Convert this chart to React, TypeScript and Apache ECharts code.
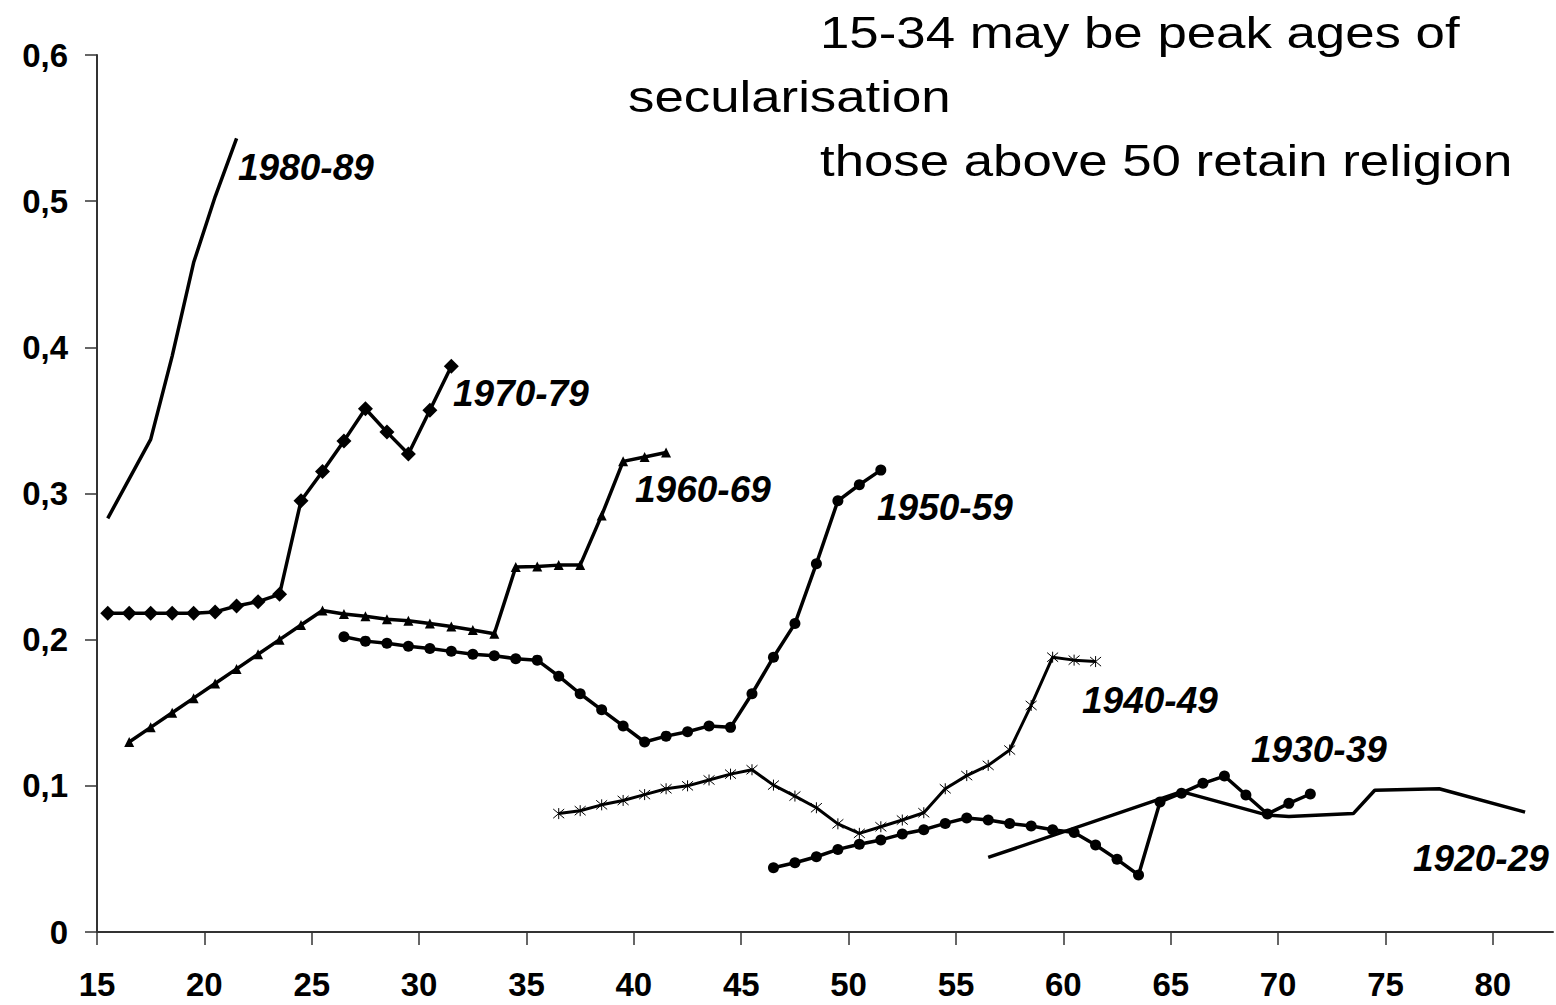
import React, { useEffect, useRef } from "react";
import * as echarts from "echarts";

// Age (x) and share (y) per birth cohort
const ages1980 = [15.5, 17.5, 18.5, 19.5, 20.5, 21.5];
const vals1980 = [0.283, 0.337, 0.394, 0.458, 0.503, 0.543];

const ages1970 = [15.5, 16.5, 17.5, 18.5, 19.5, 20.5, 21.5, 22.5, 23.5, 24.5, 25.5, 26.5, 27.5, 28.5, 29.5, 30.5, 31.5];
const vals1970 = [0.218, 0.218, 0.218, 0.218, 0.218, 0.219, 0.223, 0.226, 0.231, 0.295, 0.315, 0.336, 0.358, 0.342, 0.327, 0.357, 0.387];

const ages1960 = [16.5, 17.5, 18.5, 19.5, 20.5, 21.5, 22.5, 23.5, 24.5, 25.5, 26.5, 27.5, 28.5, 29.5, 30.5, 31.5, 32.5, 33.5, 34.5, 35.5, 36.5, 37.5, 38.5, 39.5, 40.5, 41.5];
const vals1960 = [0.13, 0.14, 0.15, 0.16, 0.17, 0.18, 0.19, 0.2, 0.21, 0.22, 0.2175, 0.216, 0.214, 0.213, 0.211, 0.209, 0.2066, 0.204, 0.2497, 0.25, 0.251, 0.251, 0.285, 0.322, 0.325, 0.328];

const ages1950 = [26.5, 27.5, 28.5, 29.5, 30.5, 31.5, 32.5, 33.5, 34.5, 35.5, 36.5, 37.5, 38.5, 39.5, 40.5, 41.5, 42.5, 43.5, 44.5, 45.5, 46.5, 47.5, 48.5, 49.5, 50.5, 51.5];
const vals1950 = [0.202, 0.199, 0.1975, 0.1955, 0.194, 0.192, 0.19, 0.189, 0.187, 0.186, 0.175, 0.163, 0.152, 0.141, 0.13, 0.134, 0.137, 0.141, 0.14, 0.163, 0.188, 0.211, 0.252, 0.295, 0.306, 0.316];

const ages1940 = [36.5, 37.5, 38.5, 39.5, 40.5, 41.5, 42.5, 43.5, 44.5, 45.5, 46.5, 47.5, 48.5, 49.5, 50.5, 51.5, 52.5, 53.5, 54.5, 55.5, 56.5, 57.5, 58.5, 59.5, 60.5, 61.5];
const vals1940 = [0.081, 0.083, 0.087, 0.09, 0.094, 0.098, 0.1, 0.104, 0.108, 0.111, 0.1005, 0.093, 0.085, 0.074, 0.0675, 0.072, 0.0766, 0.0816, 0.098, 0.107, 0.114, 0.1245, 0.155, 0.188, 0.186, 0.185];

const ages1930 = [46.5, 47.5, 48.5, 49.5, 50.5, 51.5, 52.5, 53.5, 54.5, 55.5, 56.5, 57.5, 58.5, 59.5, 60.5, 61.5, 62.5, 63.5, 64.5, 65.5, 66.5, 67.5, 68.5, 69.5, 70.5, 71.5];
const vals1930 = [0.044, 0.0474, 0.0515, 0.0565, 0.06, 0.063, 0.067, 0.07, 0.0743, 0.078, 0.0766, 0.0743, 0.0725, 0.07, 0.068, 0.0595, 0.0497, 0.039, 0.089, 0.095, 0.1017, 0.1067, 0.0937, 0.0807, 0.088, 0.0944];

const ages1920 = [56.5, 65.5, 69.5, 70.5, 73.5, 74.5, 77.5, 81.5];
const vals1920 = [0.051, 0.096, 0.08, 0.079, 0.081, 0.097, 0.098, 0.082];

const xTicks = [15, 20, 25, 30, 35, 40, 45, 50, 55, 60, 65, 70, 75, 80];

const titleLines = ["15-34 may be peak ages of", "secularisation", "those above 50 retain religion"];
const cohortLabels = ["1980-89", "1970-79", "1960-69", "1950-59", "1940-49", "1930-39", "1920-29"];

const ASTERISK = "path://M0,0L10,10M10,0L0,10M5,-1L5,11";

function pairs(xs: number[], ys: number[]) {
  return xs.map((x, i) => [x, ys[i]]);
}

function lineSeries(name: string, xs: number[], ys: number[], symbol: string, size: number) {
  return {
    name,
    type: "line",
    data: pairs(xs, ys),
    symbol,
    symbolSize: size,
    showSymbol: symbol !== "none",
    lineStyle: { color: "#000", width: 3.5 },
    itemStyle: { color: "#000" },
    emphasis: { disabled: true },
    silent: true,
  };
}

export default function App() {
  const ref = useRef<HTMLDivElement>(null);
  useEffect(() => {
    if (!ref.current) return;
    const chart = echarts.init(ref.current, null, { renderer: "svg" });
    const labelFont = {
      fontFamily: "Liberation Sans",
      fontSize: 33,
      fontWeight: "bold",
      color: "#000",
    };
    const cohortPos = [
      [238, 167],
      [453, 393],
      [635, 489],
      [877, 507],
      [1082, 700],
      [1251, 749],
      [1413, 858],
    ];
    const titlePos = [
      [820, 33],
      [628, 97],
      [820, 161],
    ];
    const graphic: any[] = [];
    titleLines.forEach((t, i) => {
      graphic.push({
        type: "text",
        x: titlePos[i][0],
        y: titlePos[i][1],
        scaleX: 1.2,
        style: {
          text: t,
          x: 0,
          y: 0,
          fill: "#000",
          font: "44px 'Liberation Sans'",
          textAlign: "left",
          textVerticalAlign: "middle",
          verticalAlign: "middle",
        },
      });
    });
    cohortLabels.forEach((t, i) => {
      graphic.push({
        type: "text",
        x: cohortPos[i][0],
        y: cohortPos[i][1],
        style: {
          text: t,
          x: 0,
          y: 0,
          fill: "#000",
          font: "italic bold 37px 'Liberation Sans'",
          textAlign: "left",
          textVerticalAlign: "middle",
          verticalAlign: "middle",
        },
      });
    });

    chart.setOption({
      animation: false,
      backgroundColor: "#fff",
      grid: { left: 97, right: 3, top: 55, bottom: 73, containLabel: false },
      xAxis: {
        type: "value",
        min: 15,
        max: 82.8,
        interval: 5,
        axisLine: { show: true, onZero: false, lineStyle: { color: "#333", width: 2 } },
        axisTick: { show: true, customValues: xTicks, length: 13, lineStyle: { color: "#333", width: 1.5 } },
        axisLabel: { customValues: xTicks, margin: 36, ...labelFont },
        splitLine: { show: false },
      },
      yAxis: {
        type: "value",
        min: 0,
        max: 0.6,
        interval: 0.1,
        axisLine: { show: true, onZero: false, lineStyle: { color: "#333", width: 2 } },
        axisTick: { show: true, length: 12, lineStyle: { color: "#333", width: 1.5 } },
        axisLabel: {
          margin: 29,
          ...labelFont,
          formatter: (v: number) => (v === 0 ? "0" : v.toFixed(1).replace(".", ",")),
        },
        splitLine: { show: false },
      },
      series: [
        lineSeries("1980-89", ages1980, vals1980, "none", 0),
        lineSeries("1970-79", ages1970, vals1970, "diamond", 15),
        lineSeries("1960-69", ages1960, vals1960, "triangle", 10),
        lineSeries("1950-59", ages1950, vals1950, "circle", 11),
        {
          ...lineSeries("1940-49", ages1940, vals1940, ASTERISK, 11),
          lineStyle: { color: "#000", width: 3 },
          itemStyle: { color: "#000", borderColor: "#000", borderWidth: 1 },
        },
        lineSeries("1930-39", ages1930, vals1930, "circle", 11),
        lineSeries("1920-29", ages1920, vals1920, "none", 0),
      ],
      graphic,
    });
    return () => chart.dispose();
  }, []);
  return (
    <div
      ref={ref}
      style={{ position: "absolute", left: 0, top: 0, width: 1556, height: 1005, background: "#fff" }}
    />
  );
}
